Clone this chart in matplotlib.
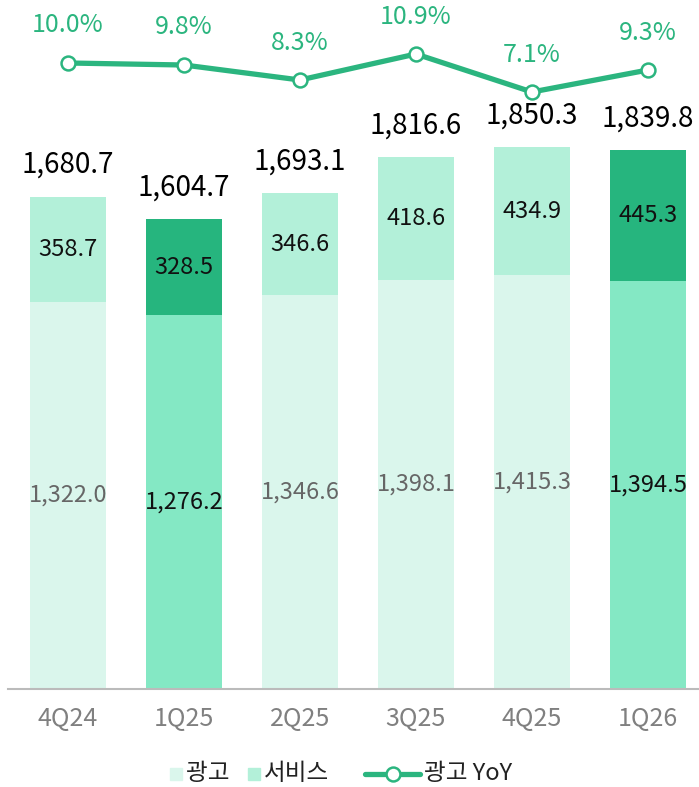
import matplotlib
matplotlib.use("Agg")
import matplotlib.pyplot as plt
from matplotlib.lines import Line2D
from matplotlib.patches import Rectangle

plt.rcParams['font.family'] = ['Noto Sans CJK KR', 'DejaVu Sans']

quarters = ["4Q24", "1Q25", "2Q25", "3Q25", "4Q25", "1Q26"]
ad = [1322.0, 1276.2, 1346.6, 1398.1, 1415.3, 1394.5]
service = [358.7, 328.5, 346.6, 418.6, 434.9, 445.3]
total = [1680.7, 1604.7, 1693.1, 1816.6, 1850.3, 1839.8]
ad_yoy = [10.0, 9.8, 8.3, 10.9, 7.1, 9.3]
highlight = [False, True, False, False, False, True]
legend_labels = ["광고", "서비스", "광고 YoY"]

C_AD = "#DAF6EC"
C_SV = "#B3F0D9"
C_AD_H = "#84E8C4"
C_SV_H = "#26B57E"
C_LINE = "#2BB57F"

W, H = 699, 787
fig = plt.figure(figsize=(W / 100, H / 100), dpi=100)
base_px = 689
ax = fig.add_axes([8 / W, (H - base_px) / H, 1 - 8 / W, base_px / H])
ppu = 492 / 1680.7
ax.set_ylim(0, base_px / ppu)
x = list(range(len(quarters)))
ax.set_xlim(-0.517, 5.44)

ad_colors = [C_AD_H if h else C_AD for h in highlight]
sv_colors = [C_SV_H if h else C_SV for h in highlight]
ax.bar(x, ad, width=0.66, color=ad_colors, zorder=2)
ax.bar(x, service, bottom=ad, width=0.66, color=sv_colors, zorder=2)

for i in x:
    ax.text(i, ad[i] / 2, f"{ad[i]:,.1f}", ha="center", va="center",
            fontsize=17, color="#111111" if highlight[i] else "#666666",
            fontweight="normal" if highlight[i] else "light")
    ax.text(i, ad[i] + service[i] / 2, f"{service[i]:,.1f}", ha="center",
            va="center", fontsize=17, color="#111111")
    ax.annotate(f"{total[i]:,.1f}", (i, total[i]), xytext=(0, 23),
                textcoords="offset points", ha="center", va="center",
                fontsize=20, color="#000000")

for s in ["top", "right", "left"]:
    ax.spines[s].set_visible(False)
ax.spines["bottom"].set_color("#BBBBBB")
ax.spines["bottom"].set_linewidth(1.5)
ax.set_yticks([])
ax.set_xticks(x)
ax.set_xticklabels(quarters, fontsize=18, color="#808080")
ax.tick_params(axis="x", length=0, pad=12)

ax2 = ax.twinx()
top_val = 10 + 63 / 10
ax2.set_ylim(top_val - base_px / 10, top_val)
ax2.plot(x, ad_yoy, color=C_LINE, lw=3.8, marker="o", markersize=10,
         markerfacecolor="white", markeredgecolor=C_LINE, markeredgewidth=1.8,
         zorder=5)
for i in x:
    ax2.annotate(f"{ad_yoy[i]:.1f}%", (i, ad_yoy[i]), xytext=(0, 27),
                 textcoords="offset points", ha="center", va="center",
                 fontsize=18, color=C_LINE)
ax2.axis("off")

# manual legend in figure pixel coordinates
def fx(px):
    return px / W

def fy(py):
    return 1 - py / H

ly = 774
fig.patches.append(Rectangle((fx(170), fy(780)), 12 / W, 12 / H,
                             transform=fig.transFigure, color=C_AD))
fig.text(fx(186), fy(ly), legend_labels[0], ha="left", va="center",
         fontsize=17, color="#222222")
fig.patches.append(Rectangle((fx(248), fy(780)), 12 / W, 12 / H,
                             transform=fig.transFigure, color=C_SV))
fig.text(fx(264), fy(ly), legend_labels[1], ha="left", va="center",
         fontsize=17, color="#222222")
fig.lines.append(Line2D([fx(365), fx(420)], [fy(ly), fy(ly)],
                        transform=fig.transFigure, color=C_LINE, lw=3.8,
                        solid_capstyle="round"))
fig.lines.append(Line2D([fx(393)], [fy(ly)], transform=fig.transFigure,
                        marker="o", markersize=10, markerfacecolor="white",
                        markeredgecolor=C_LINE, markeredgewidth=1.8,
                        linestyle="none"))
fig.text(fx(424), fy(ly), legend_labels[2], ha="left", va="center",
         fontsize=17, color="#222222")

fig.savefig("out.png", dpi=100)
